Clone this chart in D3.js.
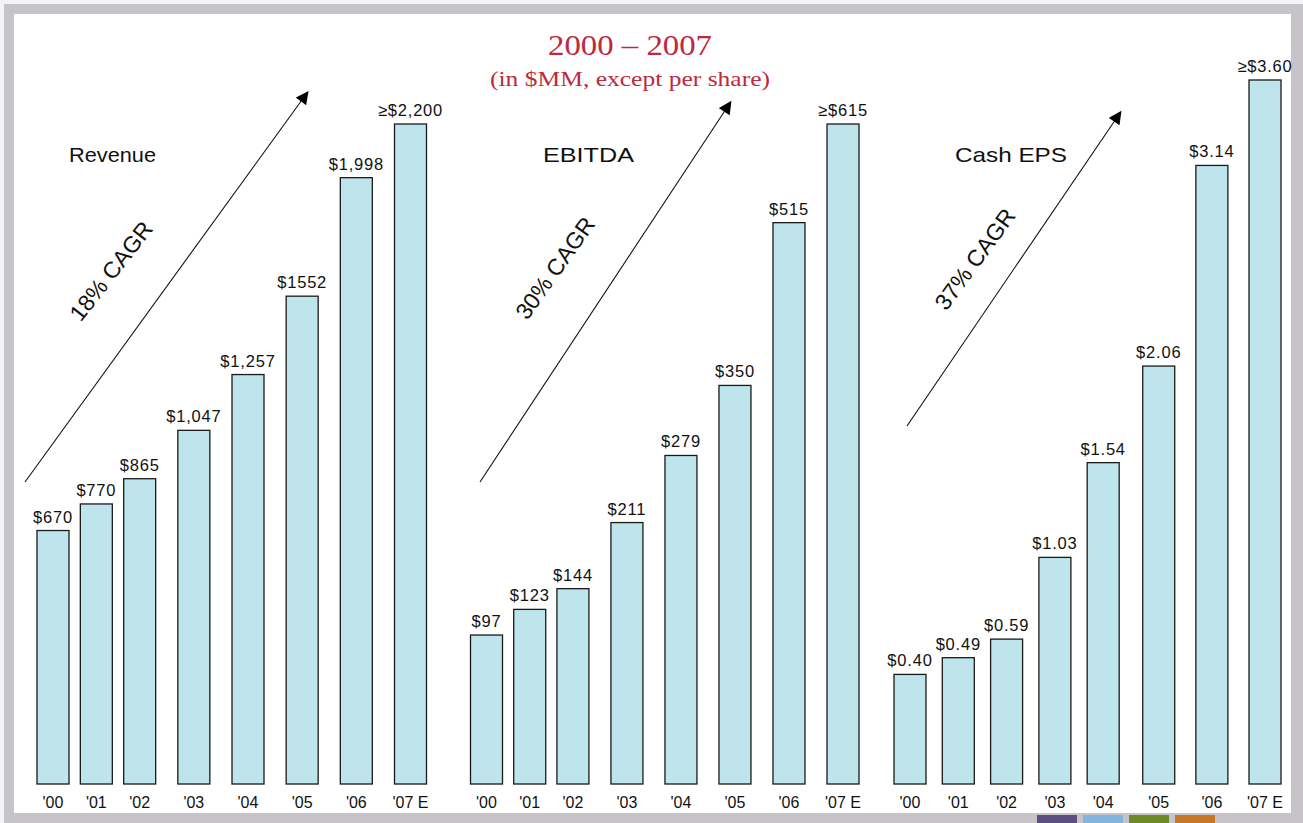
<!DOCTYPE html>
<html>
<head>
<meta charset="utf-8">
<script src="https://cdn.jsdelivr.net/npm/d3@7"></script>
<style>
    html, body { margin: 0; padding: 0; background: #ffffff; }
    svg { display: block; }
</style>
</head>
<body>
<svg id="chart" width="1303" height="823"></svg>
<script>
const years = ["'00", "'01", "'02", "'03", "'04", "'05", "'06", "'07 E"];

const revenueValues = [670, 770, 865, 1047, 1257, 1552, 1998, 2200];
const revenueLabels = ["$670", "$770", "$865", "$1,047", "$1,257", "$1552", "$1,998", "≥$2,200"];

const ebitdaValues = [97, 123, 144, 211, 279, 350, 515, 615];
const ebitdaLabels = ["$97", "$123", "$144", "$211", "$279", "$350", "$515", "≥$615"];

const epsValues = [0.40, 0.49, 0.59, 1.03, 1.54, 2.06, 3.14, 3.60];
const epsLabels = ["$0.40", "$0.49", "$0.59", "$1.03", "$1.54", "$2.06", "$3.14", "≥$3.60"];

const panelTitles = ["Revenue", "EBITDA", "Cash EPS"];
const cagrLabels = ["18% CAGR", "30% CAGR", "37% CAGR"];

const chartTitle = "2000 \u2013 2007";
const chartSubtitle = "(in $MM, except per share)";

const footerColors = ["#5b4f80", "#84b4de", "#6d8a26", "#c87628"];


(function (svg) {

    const width = 1303,
        height = 823;

    const baseY = 784;
    const barWidth = 32;
    const sans = "'Liberation Sans', Arial, sans-serif";
    const serif = "'Liberation Serif', 'Times New Roman', serif";

    // layout of each panel (slot spacing is not uniform in the original)
    const panels = [
        {
            values: revenueValues, labels: revenueLabels,
            slots: [0, 1, 2, 3.25, 4.5, 5.75, 7, 8.25],
            xRange: [53, 410.5], yDomain: [-284, 2200], topY: 124,
            title: { x: 112.5, y: 162, w: 87 },
            arrow: [[25, 482], [307, 93]],
            cagr: { x: 111, y: 271 }
        },
        {
            values: ebitdaValues, labels: ebitdaLabels,
            slots: [0, 1, 2, 3.25, 4.5, 5.75, 7, 8.25],
            xRange: [486.5, 843], yDomain: [-54, 615], topY: 124,
            title: { x: 588.5, y: 162, w: 91 },
            arrow: [[480, 482], [730, 103]],
            cagr: { x: 555, y: 268 }
        },
        {
            values: epsValues, labels: epsLabels,
            slots: [0, 1, 2, 3, 4, 5.15, 6.25, 7.35],
            xRange: [910, 1265], yDomain: [-0.19, 3.6], topY: 80,
            title: { x: 1011, y: 162, w: 112 },
            arrow: [[907, 426], [1120, 113]],
            cagr: { x: 975, y: 259 }
        }
    ];

    // frame
    svg.append("rect")
        .attr("x", 0).attr("y", 0)
        .attr("width", width).attr("height", height)
        .attr("fill", "#f4f3f5");
    svg.append("rect")
        .attr("x", 4).attr("y", 4)
        .attr("width", width - 4).attr("height", height - 4)
        .attr("fill", "#c7c4c9");
    svg.append("rect")
        .attr("x", 14).attr("y", 14)
        .attr("width", 1277).attr("height", 799)
        .attr("fill", "#ffffff");

    footerColors.forEach(function (c, i) {
        svg.append("rect")
            .attr("x", 1037 + i * 46)
            .attr("y", 815)
            .attr("width", 40)
            .attr("height", 8)
            .attr("fill", c);
    });

    // title
    svg.append("text")
        .attr("x", 630).attr("y", 55)
        .attr("text-anchor", "middle")
        .attr("font-family", serif)
        .attr("font-size", 30)
        .attr("textLength", 164)
        .attr("lengthAdjust", "spacingAndGlyphs")
        .attr("fill", "#c0283c")
        .text(chartTitle);

    svg.append("text")
        .attr("x", 630).attr("y", 86)
        .attr("text-anchor", "middle")
        .attr("font-family", serif)
        .attr("font-size", 21)
        .attr("textLength", 280)
        .attr("lengthAdjust", "spacingAndGlyphs")
        .attr("fill", "#c0283c")
        .text(chartSubtitle);

    const defs = svg.append("defs");
    defs.append("marker")
        .attr("id", "arrowhead")
        .attr("viewBox", "0 0 10 10")
        .attr("refX", 8).attr("refY", 5)
        .attr("markerWidth", 14).attr("markerHeight", 13)
        .attr("markerUnits", "userSpaceOnUse")
        .attr("orient", "auto")
        .append("path")
            .attr("d", "M0,0 L10,5 L0,10 z")
            .attr("fill", "#000");


    panels.forEach(function (p, pi) {

        const g = svg.append("g");

        const slotScale = d3.scaleLinear()
            .domain([0, d3.max(p.slots)])
            .range(p.xRange);

        const y = d3.scaleLinear()
            .domain(p.yDomain)
            .range([baseY, p.topY]);

        const data = p.values.map(function (v, i) {
            return { year: years[i], value: v, label: p.labels[i], slot: p.slots[i] };
        });

        // arrow
        g.append("line")
            .attr("x1", p.arrow[0][0]).attr("y1", p.arrow[0][1])
            .attr("x2", p.arrow[1][0]).attr("y2", p.arrow[1][1])
            .attr("stroke", "#111")
            .attr("stroke-width", 1.1)
            .attr("marker-end", "url(#arrowhead)");

        const angle = Math.atan2(p.arrow[1][1] - p.arrow[0][1], p.arrow[1][0] - p.arrow[0][0]) * 180 / Math.PI;

        g.append("text")
            .attr("transform", "translate(" + p.cagr.x + "," + p.cagr.y + ") rotate(" + (angle + 2) + ")")
            .attr("text-anchor", "middle")
            .attr("dy", "0.35em")
            .attr("font-family", sans)
            .attr("font-size", 23)
            .attr("fill", "#111")
            .text(cagrLabels[pi]);

        g.append("text")
            .attr("x", p.title.x).attr("y", p.title.y)
            .attr("text-anchor", "middle")
            .attr("font-family", sans)
            .attr("font-size", 21)
            .attr("textLength", p.title.w)
            .attr("lengthAdjust", "spacingAndGlyphs")
            .attr("fill", "#111")
            .text(panelTitles[pi]);

        const bars = g.selectAll("g.bar")
            .data(data)
            .enter()
            .append("g")
                .attr("class", "bar");

        bars.append("rect")
            .attr("x", function (d) { return slotScale(d.slot) - barWidth / 2; })
            .attr("y", function (d) { return y(d.value); })
            .attr("width", barWidth)
            .attr("height", function (d) { return baseY - y(d.value); })
            .attr("fill", "#bde5eb")
            .attr("stroke", "#1a1a1a")
            .attr("stroke-width", 1.3);

        bars.append("text")
            .attr("x", function (d) { return slotScale(d.slot); })
            .attr("y", function (d) { return y(d.value) - 8; })
            .attr("text-anchor", "middle")
            .attr("font-family", sans)
            .attr("font-size", 16.5)
            .attr("letter-spacing", 0.8)
            .attr("fill", "#111")
            .text(function (d) { return d.label; });

        bars.append("text")
            .attr("x", function (d) { return slotScale(d.slot); })
            .attr("y", 808)
            .attr("text-anchor", "middle")
            .attr("font-family", sans)
            .attr("font-size", 16)
            .attr("fill", "#111")
            .text(function (d) { return d.year; });
    });

})(d3.select("#chart"));
</script>
</body>
</html>
